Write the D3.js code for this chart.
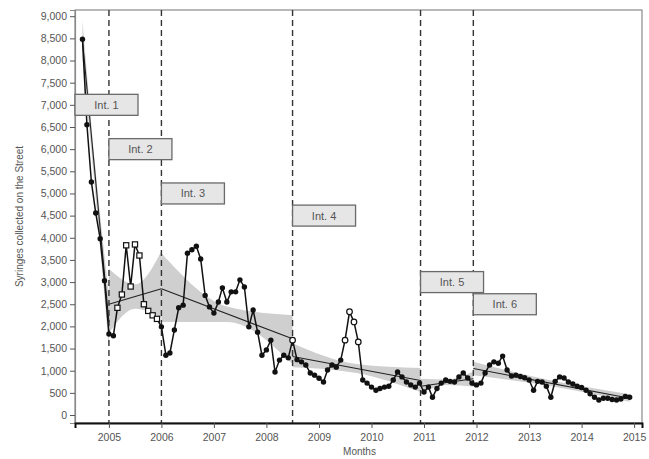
<!DOCTYPE html>
<html>
<head>
<meta charset="utf-8">
<script src="https://cdn.jsdelivr.net/npm/d3@7"></script>
<style>
  html, body { margin: 0; padding: 0; background: #fff; }
  svg { display: block; font-family: "Liberation Sans", Arial, sans-serif; }
</style>
</head>
<body>
<svg id="chart" width="649" height="459"></svg>
<script>
// Monthly syringe counts, July 2004 – December 2014
const firstMonth = new Date(2004, 6, 1);
const syringes = [
  8480, 6550, 5260, 4560, 3980, 3030,                                   // 2004 Jul–Dec
  1830, 1790, 2420, 2720, 3830, 2900, 3850, 3600, 2500, 2350, 2250, 2170, // 2005
  1990, 1350, 1400, 1920, 2420, 2480, 3650, 3730, 3810, 3520, 2700, 2440, // 2006
  2300, 2550, 2870, 2550, 2780, 2780, 3050, 2890, 1990, 2370, 1870, 1350, // 2007
  1470, 1690,  970, 1240, 1350, 1290, 1690, 1250, 1200, 1130,  950,  900, // 2008
   830,  745, 1015, 1130, 1080, 1240, 1690, 2330, 2100, 1650,  790,  720, // 2009
   630,  560,  600,  630,  650,  790,  970,  860,  745,  680,  630,  720, // 2010
   520,  630,  400,  600,  720,  790,  760,  745,  860,  950,  835,  720, // 2011
   680,  720,  950, 1130, 1200, 1170, 1330, 1015,  880,  900,  870,  840, // 2012
   790,  560,  760,  745,  650,  400,  760,  860,  835,  745,  700,  650, // 2013
   620,  560,  480,  400,  340,  380,  380,  350,  340,  360,  420,  400  // 2014
];

// Months flagged with other marker types
const squareMonths = ["2005-03","2005-04","2005-05","2005-06","2005-07","2005-08","2005-09","2005-10","2005-11","2005-12"];
const openCircleMonths = ["2008-07","2009-07","2009-08","2009-09","2009-10"];

// Intervention start dates and labels
const interventionDates = ["2005-01-01","2006-01-01","2008-07-01","2010-12-08","2011-12-10"];
const interventionLabels = ["Int. 1","Int. 2","Int. 3","Int. 4","Int. 5","Int. 6"];
const labelAnchorDates = [null,"2005-01-01","2006-01-01","2008-07-01","2010-12-08","2011-12-10"];
const labelLevels = [7000, 6000, 5000, 4500, 3000, 2500];

// Segmented trend per intervention period: fitted start/end, band (low, high) at start, middle, end
const segStart = ["2004-07-01","2005-01-01","2006-01-01","2008-07-01","2010-12-08","2011-12-10"];
const segEnd   = ["2005-01-01","2006-01-01","2008-07-01","2010-12-08","2011-12-10","2014-12-01"];
const fitStartVal = [8450, 2500, 2850, 1320, 650, 1050];
const fitEndVal   = [2100, 2850, 1720,  780, 820,  380];
const bandStart = [[8050, 8900], [1850, 3300], [2100, 3650], [1080, 1620], [480, 820], [ 900, 1200]];
const bandMid   = [[4900, 5500], [2400, 2950], [2100, 2450], [ 950, 1150], [680, 800], [ 650,  780]];
const bandEnd   = [[1500, 2700], [2200, 3700], [1150, 2250], [ 520, 1060], [640, 980], [ 300,  470]];

// Axis ticks
const yTicks = d3.range(0, 9001, 500);
const xTickYears = [2005, 2006, 2007, 2008, 2009, 2010, 2011, 2012, 2013, 2014, 2015];

const svg = d3.select("#chart");
const mLeft = 75, mRight = 642, mTop = 10, mBottom = 423;

const x = d3.scaleTime()
  .domain([new Date(2004, 4, 10), new Date(2015, 1, 25)])
  .range([mLeft, mRight]);
const y = d3.scaleLinear().domain([-180, 9140]).range([mBottom, mTop]);

const parse = d3.timeParse("%Y-%m-%d");
const monthKey = d3.timeFormat("%Y-%m");
const months = d3.timeMonth.range(firstMonth, d3.timeMonth.offset(firstMonth, syringes.length));
const series = months.map((d, i) => ({ date: d, value: syringes[i], key: monthKey(d) }));

// plot frame (top / right in grey)
svg.append("rect")
  .attr("x", mLeft).attr("y", mTop)
  .attr("width", mRight - mLeft).attr("height", mBottom - mTop)
  .attr("fill", "none").attr("stroke", "#8a8a8a").attr("stroke-width", 1.2);

// confidence bands
const bandArea = d3.area()
  .x(d => x(d.date)).y0(d => y(d.lo)).y1(d => y(d.hi))
  .curve(d3.curveMonotoneX);
segStart.forEach((s, i) => {
  const d0 = parse(s), d1 = parse(segEnd[i]);
  const dm = new Date((+d0 + +d1) / 2);
  const pts = [
    { date: d0, lo: bandStart[i][0], hi: bandStart[i][1] },
    { date: dm, lo: bandMid[i][0],   hi: bandMid[i][1] },
    { date: d1, lo: bandEnd[i][0],   hi: bandEnd[i][1] }
  ];
  svg.append("path").datum(pts).attr("d", bandArea).attr("fill", "#cfcfcf");
});

// fitted lines
segStart.forEach((s, i) => {
  svg.append("line")
    .attr("x1", x(parse(s))).attr("y1", y(fitStartVal[i]))
    .attr("x2", x(parse(segEnd[i]))).attr("y2", y(fitEndVal[i]))
    .attr("stroke", "#222").attr("stroke-width", 1.1);
});

// intervention boundaries
svg.selectAll(".intv").data(interventionDates).join("line")
  .attr("class", "intv")
  .attr("x1", d => x(parse(d))).attr("x2", d => x(parse(d)))
  .attr("y1", mTop).attr("y2", mBottom)
  .attr("stroke", "#333").attr("stroke-width", 1.4)
  .attr("stroke-dasharray", "6,4");

// observed series
svg.append("path").datum(series)
  .attr("d", d3.line().x(d => x(d.date)).y(d => y(d.value)))
  .attr("fill", "none").attr("stroke", "#111").attr("stroke-width", 1.5);

const squares = new Set(squareMonths), openCircles = new Set(openCircleMonths);
svg.selectAll(".sq").data(series.filter(d => squares.has(d.key))).join("rect")
  .attr("class", "sq")
  .attr("x", d => x(d.date) - 2.6).attr("y", d => y(d.value) - 2.6)
  .attr("width", 5.2).attr("height", 5.2)
  .attr("fill", "#fff").attr("stroke", "#111").attr("stroke-width", 1.2);
svg.selectAll(".oc").data(series.filter(d => openCircles.has(d.key))).join("circle")
  .attr("class", "oc")
  .attr("cx", d => x(d.date)).attr("cy", d => y(d.value)).attr("r", 2.8)
  .attr("fill", "#fff").attr("stroke", "#111").attr("stroke-width", 1.2);
svg.selectAll(".pt").data(series.filter(d => !squares.has(d.key) && !openCircles.has(d.key))).join("circle")
  .attr("class", "pt")
  .attr("cx", d => x(d.date)).attr("cy", d => y(d.value)).attr("r", 2.7)
  .attr("fill", "#111");

// axes
const yAxis = d3.axisLeft(y).tickValues(yTicks).tickFormat(d3.format(",")).tickSize(5).tickPadding(3);
const gy = svg.append("g").attr("transform", `translate(${mLeft},0)`).call(yAxis);
gy.select(".domain").attr("stroke", "#8a8a8a").attr("stroke-width", 1.2);
gy.selectAll(".tick line").attr("stroke", "#555");
gy.selectAll("text").attr("fill", "#555").attr("font-size", 10.5);

const xAxis = d3.axisBottom(x)
  .tickValues(xTickYears.map(yv => new Date(yv, 0, 1)))
  .tickFormat(d3.timeFormat("%Y")).tickSize(5).tickPadding(6);
const gx = svg.append("g").attr("transform", `translate(0,${mBottom})`).call(xAxis);
gx.select(".domain").attr("stroke", "#111").attr("stroke-width", 2);
gx.selectAll(".tick line").attr("stroke", "#555");
gx.selectAll("text").attr("fill", "#555").attr("font-size", 10.5);

// axis titles
svg.append("text")
  .attr("x", (mLeft + mRight) / 2 + 1).attr("y", 455)
  .attr("text-anchor", "middle").attr("font-size", 10).attr("fill", "#555")
  .text("Months");
svg.append("text")
  .attr("transform", `translate(23,${(mTop + mBottom) / 2}) rotate(-90)`)
  .attr("text-anchor", "middle").attr("font-size", 10).attr("fill", "#555")
  .text("Syringes collected on the Street");

// intervention labels
const boxW = 63, boxH = 21;
interventionLabels.forEach((t, i) => {
  const bx = labelAnchorDates[i] ? x(parse(labelAnchorDates[i])) : mLeft;
  const by = y(labelLevels[i]) - boxH / 2;
  const g = svg.append("g");
  g.append("rect").attr("x", bx).attr("y", by).attr("width", boxW).attr("height", boxH)
    .attr("fill", "#e6e6e6").attr("stroke", "#6a6a6a").attr("stroke-width", 1.3);
  g.append("text").attr("x", bx + boxW / 2).attr("y", by + boxH / 2 + 4)
    .attr("text-anchor", "middle").attr("font-size", 11).attr("fill", "#555").text(t);
});
</script>
</body>
</html>
